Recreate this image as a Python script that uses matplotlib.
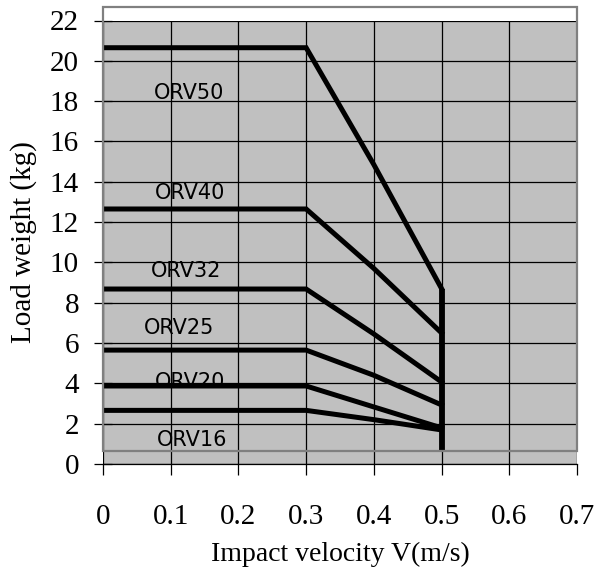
import numpy as np
import matplotlib.pyplot as plt
from matplotlib.patches import Rectangle

# impact velocity breakpoints (m/s) and allowable load weight (kg) per model
velocity = [0.0, 0.3, 0.4, 0.5]
models = ['ORV50', 'ORV40', 'ORV32', 'ORV25', 'ORV20', 'ORV16']
load = {
    'ORV50': [20.65, 20.65, 14.85, 8.7],
    'ORV40': [12.65, 12.65, 9.7, 6.5],
    'ORV32': [8.68, 8.68, 6.45, 4.07],
    'ORV25': [5.65, 5.65, 4.4, 2.93],
    'ORV20': [3.87, 3.87, 2.83, 1.79],
    'ORV16': [2.66, 2.66, 2.2, 1.69],
}
# vertical limit at V = 0.5
limit_v = [0.5, 0.5]
limit_w = [0.6, 8.7]

# label anchor (left edge, centre) for each model
label_x = [0.075, 0.077, 0.071, 0.061, 0.077, 0.080]
label_y = [18.4, 13.44, 9.57, 6.75, 4.07, 1.19]

xticks = np.arange(0, 0.71, 0.1)
yticks = np.arange(0, 23, 2)

fig = plt.figure(figsize=(5.95, 5.77), dpi=100)
ax = fig.add_axes([103 / 595, 1 - 464 / 577, 474 / 595, 443.5 / 577])
ax.set_facecolor('#c0c0c0')

for m in models:
    ax.plot(velocity, load[m], color='black', lw=3.6, solid_joinstyle='miter', zorder=3)
ax.plot(limit_v, limit_w, color='black', lw=4.2, solid_capstyle='butt', zorder=3)

for m, lx, ly in zip(models, label_x, label_y):
    ax.text(lx, ly, m, fontsize=15, family='DejaVu Sans', va='center', ha='left', zorder=4)

ax.set_xlim(0, 0.7)
ax.set_ylim(0, 22)
ax.set_xticks(xticks)
ax.set_xticklabels(['0' if v == 0 else '%.1f' % v for v in xticks])
ax.set_yticks(yticks)

ax.grid(True, color='black', lw=0.9, zorder=1)
ax.set_axisbelow(True)

for s in ['top', 'right', 'left']:
    ax.spines[s].set_visible(False)
ax.spines['bottom'].set_color('black')
ax.spines['bottom'].set_linewidth(0.9)

# offset gray frame of the plot area
frame = Rectangle((0, 0.63), 0.7, 22.02, fill=False, edgecolor='#808080',
                  lw=1.6, clip_on=False, zorder=5)
ax.add_patch(frame)

ax.tick_params(axis='x', direction='out', length=8, width=0.9, pad=21,
               labelsize=21, labelfontfamily='Liberation Serif')
ax.tick_params(axis='y', direction='inout', length=12.5, width=0.9, pad=11,
               labelsize=21, labelfontfamily='Liberation Serif')

ax.set_xlabel('Impact velocity V(m/s)', fontsize=20, family='Liberation Serif', labelpad=8)
ax.set_ylabel('Load weight (kg)', fontsize=21, family='Liberation Serif', labelpad=9)

fig.savefig('out.png', dpi=100)
